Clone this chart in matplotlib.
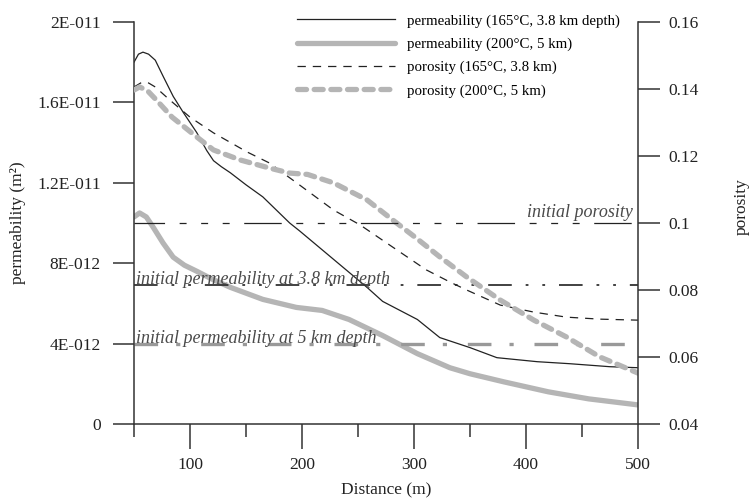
import matplotlib
matplotlib.use("Agg")
import matplotlib.pyplot as plt
from matplotlib.ticker import FixedLocator, MultipleLocator

plt.rcParams['font.family'] = ['Liberation Serif', 'DejaVu Serif']
plt.rcParams['lines.scale_dashes'] = False

# permeability (165 C, 3.8 km depth), m2 (x1e-12)
perm165_x = [50, 54, 58, 63, 69, 76, 85, 94, 106, 115, 121, 128, 136, 150, 165, 189, 198,
             228, 258, 272, 303, 323, 350, 374, 410, 439, 475, 500]
perm165_y = [18.0, 18.4, 18.5, 18.4, 18.1, 17.3, 16.3, 15.5, 14.5, 13.6, 13.1, 12.8, 12.5,
             11.9, 11.3, 10.0, 9.6, 8.2, 6.8, 6.1, 5.2, 4.3, 3.8, 3.3, 3.1, 3.0, 2.85, 2.8]

# permeability (200 C, 5 km)
perm200_x = [50, 55, 61, 67, 76, 85, 95, 106, 120, 136, 165, 195, 218, 242, 272, 303, 332,
             350, 380, 420, 456, 500]
perm200_y = [10.3, 10.5, 10.3, 9.8, 9.0, 8.3, 7.9, 7.6, 7.2, 6.8, 6.2, 5.8, 5.65, 5.2, 4.4,
             3.5, 2.8, 2.5, 2.1, 1.6, 1.25, 0.95]

# porosity (165 C, 3.8 km)
por165_x = [50, 57, 63, 69, 82, 100, 121, 151, 171, 198, 228, 252, 281, 311, 332, 347, 377,
            407, 436, 466, 500]
por165_y = [0.1406, 0.142, 0.1418, 0.1406, 0.1367, 0.1316, 0.1269, 0.1212, 0.1179, 0.1113,
            0.1039, 0.0994, 0.0928, 0.086, 0.0824, 0.080, 0.0755, 0.0734, 0.0719, 0.0713,
            0.071]

# porosity (200 C, 5 km)
por200_x = [50, 55, 62, 70, 84, 106, 121, 145, 171, 189, 205, 228, 258, 281, 302, 323, 347,
            377, 407, 436, 466, 500]
por200_y = [0.1397, 0.1406, 0.1395, 0.1367, 0.1316, 0.1257, 0.1218, 0.1188, 0.1164, 0.1149,
            0.1145, 0.112, 0.1069, 0.1009, 0.0955, 0.0899, 0.0839, 0.077, 0.071, 0.066,
            0.060, 0.0552]

init_porosity = 0.1
init_perm_38 = 6.9e-12
init_perm_5 = 4e-12

perm_ticks = [0, 4e-12, 8e-12, 1.2e-11, 1.6e-11, 2e-11]
perm_labels = ['0', '4E-012', '8E-012', '1.2E-011', '1.6E-011', '2E-011']
por_ticks = [0.04, 0.06, 0.08, 0.1, 0.12, 0.14, 0.16]
por_labels = ['0.04', '0.06', '0.08', '0.1', '0.12', '0.14', '0.16']
x_ticks = [100, 200, 300, 400, 500]

ink = '#222222'
gray = '#b5b5b5'

fig = plt.figure(figsize=(7.53, 5.0), dpi=100)
ax = fig.add_axes([134 / 753, 76 / 500, 504 / 753, 402 / 500])
ax2 = ax.twinx()

# data curves
l1, = ax.plot(perm165_x, [v * 1e-12 for v in perm165_y], color=ink, lw=0.9,
              label='permeability (165°C, 3.8 km depth)')
l2, = ax.plot(perm200_x, [v * 1e-12 for v in perm200_y], color=gray, lw=3.8,
              solid_capstyle='round', solid_joinstyle='round',
              label='permeability (200°C, 5 km)')
l3, = ax2.plot(por165_x, por165_y, color=ink, lw=0.9, dashes=(6, 5),
               label='porosity (165°C, 3.8 km)')
l4, = ax2.plot(por200_x, por200_y, color=gray, lw=3.8, dashes=(6.5, 5.5),
               dash_capstyle='round', label='porosity (200°C, 5 km)')

# initial-value reference lines
ax2.plot([50, 500], [init_porosity] * 2, color=ink, lw=0.9,
         linestyle=(5, (27, 10.5, 5, 10.5, 5, 10.5, 5, 10.5)))
ax.plot([50, 500], [init_perm_38] * 2, color='#333333', lw=1.3,
        linestyle=(0, (17, 10, 2, 10, 2, 10)))
ax.plot([50, 500], [init_perm_5] * 2, color='#999999', lw=2.4,
        linestyle=(0, (17, 13, 3, 15)))

txt = dict(style='italic', fontsize=13, color='#4a4a4a')
ax.text(52, init_perm_38 + 0.05e-12, 'initial permeability at 3.8 km depth',
        ha='left', va='baseline', **txt)
ax.text(52, init_perm_5 + 0.05e-12, 'initial permeability at 5 km depth',
        ha='left', va='baseline', **txt)
ax2.text(495, init_porosity + 0.0017, 'initial porosity', ha='right', va='baseline', **txt)

# axes styling
ax.set_xlim(50, 500)
ax.set_ylim(0, 2e-11)
ax2.set_ylim(0.04, 0.16)
ax.xaxis.set_major_locator(FixedLocator(x_ticks))
ax.xaxis.set_minor_locator(MultipleLocator(50))
ax.yaxis.set_major_locator(FixedLocator(perm_ticks))
ax.set_yticklabels(perm_labels)
ax2.yaxis.set_major_locator(FixedLocator(por_ticks))
ax2.set_yticklabels(por_labels)

for a in (ax, ax2):
    for s in a.spines.values():
        s.set_color('#333333')
        s.set_linewidth(1.1)
    a.spines['top'].set_visible(False)
ax.spines['right'].set_visible(False)
ax2.spines['left'].set_visible(False)
ax2.spines['bottom'].set_visible(False)

ax.tick_params(axis='x', which='major', direction='out', length=18, width=1.1,
               color='#333333', pad=6, labelsize=12.5, labelcolor=ink)
ax.tick_params(axis='x', which='minor', direction='out', length=9, width=1.1, color='#333333')
ax.tick_params(axis='y', direction='out', length=15, width=1.1, color='#333333',
               pad=9, labelsize=12.5, labelcolor=ink)
ax2.tick_params(axis='y', direction='out', length=16, width=1.1, color='#333333',
                pad=6, labelsize=12.5, labelcolor=ink)

ax.set_xlabel('Distance (m)', fontsize=12.5, color=ink)
ax.xaxis.set_label_coords(0.5, -0.146)
ax.set_ylabel('permeability (m²)', fontsize=12.5, color=ink)
ax.yaxis.set_label_coords(-0.215, 0.5)
ax2.set_ylabel('porosity', fontsize=12.5, color=ink)
ax2.yaxis.set_label_coords(1.19, 0.54)

fig.legend(handles=[l1, l2, l3, l4], loc='upper left', bbox_to_anchor=(0.394, 0.972),
           frameon=False, fontsize=10.7, handlelength=6.6, handletextpad=0.8,
           labelspacing=0.66, borderpad=0, borderaxespad=0)

fig.savefig('out.png', dpi=100)
